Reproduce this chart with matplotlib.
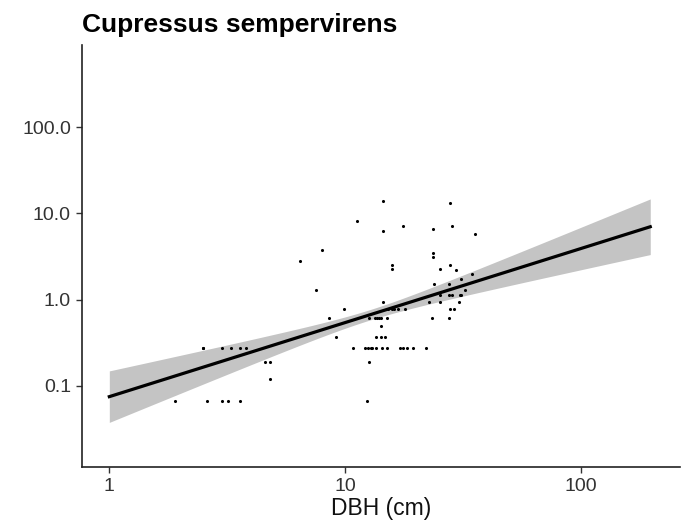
import numpy as np
import matplotlib.pyplot as plt
import matplotlib.ticker as mticker

plt.rcParams['font.family'] = ['Liberation Sans', 'DejaVu Sans']

dbh = [2.49, 2.49, 2.99, 3.29, 3.59, 3.80, 4.55, 4.78, 4.78, 1.90, 2.59, 2.99, 3.18, 3.59,
       14.4, 27.7, 11.2, 14.4, 17.6, 23.6, 28.3, 35.3, 8.0, 6.45, 23.6, 23.6,
       15.8, 15.8, 25.1, 27.9, 29.5, 7.54, 34.5, 31.0, 23.8, 27.5, 32.3,
       25.1, 27.5, 28.3, 30.6, 31.0, 22.6, 25.1, 30.3, 17.9, 14.5,
       15.2, 15.8, 16.1, 16.7, 9.84, 8.56, 27.9, 29.0, 23.3, 27.5,
       12.6, 13.3, 13.6, 13.9, 14.2, 15.0, 14.1, 9.13, 13.5, 14.1, 14.8,
       10.8, 12.1, 12.5, 12.8, 13.0, 13.5, 14.3, 15.0, 17.1, 17.6, 18.3, 19.4, 22.0,
       12.6, 12.3]
resp = [0.274, 0.274, 0.274, 0.274, 0.274, 0.274, 0.19, 0.19, 0.12, 0.067, 0.067, 0.067, 0.067, 0.067,
        14.0, 13.3, 8.07, 6.18, 7.12, 6.64, 7.12, 5.75, 3.81, 2.84, 3.49, 3.14,
        2.53, 2.27, 2.27, 2.53, 2.23, 1.31, 1.99, 1.75, 1.52, 1.52, 1.31,
        1.12, 1.12, 1.12, 1.12, 1.12, 0.93, 0.93, 0.93, 0.77, 0.93,
        0.77, 0.77, 0.77, 0.77, 0.77, 0.62, 0.77, 0.77, 0.62, 0.62,
        0.62, 0.62, 0.62, 0.62, 0.62, 0.62, 0.49, 0.37, 0.37, 0.37, 0.37,
        0.274, 0.274, 0.274, 0.274, 0.274, 0.274, 0.274, 0.274, 0.274, 0.274, 0.274, 0.274, 0.274,
        0.19, 0.067]

# fitted model as shown (log10 y = intercept + slope * log10 x), band half-width params
intercept = -1.124
slope = 0.859
band_min = 0.06      # half-width at centre (log10 units)
band_k = 0.2657      # growth of half-width with distance from centre
band_center = 1.10   # log10 DBH where band is narrowest
x_range = (1, 196)

xticks = [1, 10, 100]
xticklabels = ['1', '10', '100']
yticks = [0.1, 1.0, 10.0, 100.0]
yticklabels = ['0.1', '1.0', '10.0', '100.0']

grid = np.linspace(np.log10(x_range[0]), np.log10(x_range[1]), 100)
fit = intercept + slope * grid
half = np.sqrt(band_min ** 2 + band_k ** 2 * (grid - band_center) ** 2)
xg = 10 ** grid

fig = plt.figure(figsize=(6.85, 5.25), dpi=100)
ax = fig.add_axes([82 / 685, 1 - 467 / 525, 598 / 685, 422 / 525])

ax.fill_between(xg, 10 ** (fit - half), 10 ** (fit + half), color='#c4c4c4', lw=0)
ax.scatter(dbh, resp, s=5, color='black', lw=0, zorder=3)
ax.plot(xg, 10 ** fit, color='black', lw=2.3, zorder=4)

ax.set_xscale('log')
ax.set_yscale('log')
ax.set_xlim(0.766, 262)
ax.set_ylim(0.0115, 894)
ax.xaxis.set_major_locator(mticker.FixedLocator(xticks))
ax.xaxis.set_major_formatter(mticker.FixedFormatter(xticklabels))
ax.xaxis.set_minor_locator(mticker.NullLocator())
ax.yaxis.set_major_locator(mticker.FixedLocator(yticks))
ax.yaxis.set_major_formatter(mticker.FixedFormatter(yticklabels))
ax.yaxis.set_minor_locator(mticker.NullLocator())

for side in ['top', 'right']:
    ax.spines[side].set_visible(False)
for side in ['left', 'bottom']:
    ax.spines[side].set_linewidth(1.2)
    ax.spines[side].set_color('#222222')
ax.tick_params(length=4.5, width=1, labelsize=14, color='#333333', labelcolor='#333333', pad=3.5)

ax.set_xlabel('DBH (cm)', fontsize=16.5, labelpad=1, color='#111111')
fig.text(82 / 685, 1 - 32 / 525, 'Cupressus sempervirens', fontsize=19, fontweight='bold',
         ha='left', va='baseline')

fig.savefig('out.png', dpi=100)
